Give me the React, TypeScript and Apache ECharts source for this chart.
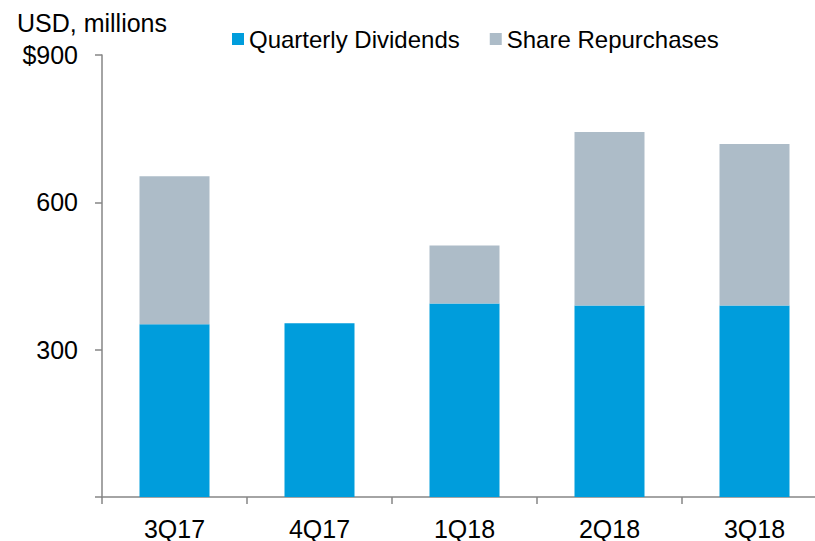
import React, { useEffect, useRef } from "react";
import * as echarts from "echarts";

const categories = ["3Q17", "4Q17", "1Q18", "2Q18", "3Q18"];
const quarterlyDividends = [352, 354, 394, 390, 390];
const shareRepurchases = [301, 0, 118, 353, 329];
const yTicks = [0, 300, 600, 900];

const FONT = "'Liberation Sans', Arial, sans-serif";

export default function App() {
  const ref = useRef<HTMLDivElement>(null);
  useEffect(() => {
    if (!ref.current) return;
    const chart = echarts.init(ref.current, null, { renderer: "svg" });
    chart.setOption({
      animation: false,
      backgroundColor: "#ffffff",
      textStyle: { fontFamily: FONT },
      title: {
        text: "USD, millions",
        left: 12,
        top: 5,
        textStyle: { fontFamily: FONT, fontSize: 25, fontWeight: "normal", color: "#000" },
      },
      legend: {
        left: 227,
        top: 22,
        icon: "rect",
        itemWidth: 12,
        itemHeight: 12,
        itemGap: 30,
        textStyle: { fontFamily: FONT, fontSize: 24, color: "#000", padding: [0, 0, 0, 0] },
        data: ["Quarterly Dividends", "Share Repurchases"],
      },
      grid: { left: 102, top: 55, width: 725, height: 442, containLabel: false },
      xAxis: {
        type: "category",
        data: categories,
        axisLine: { lineStyle: { color: "#868686", width: 1.5 } },
        axisTick: { show: true, length: 7, lineStyle: { color: "#868686", width: 1.5 } },
        axisLabel: { fontFamily: FONT, fontSize: 25, color: "#000", margin: 19 },
      },
      yAxis: {
        type: "value",
        min: yTicks[0],
        max: yTicks[yTicks.length - 1],
        interval: 300,
        splitLine: { show: false },
        axisLine: { show: true, lineStyle: { color: "#868686", width: 1.5 } },
        axisTick: { show: true, length: 7, lineStyle: { color: "#868686", width: 1.5 } },
        axisLabel: {
          fontFamily: FONT,
          fontSize: 25,
          color: "#000",
          margin: 24,
          formatter: (v: number) => (v === 0 ? "" : v === 900 ? "$900" : String(v)),
        },
      },
      series: [
        {
          name: "Quarterly Dividends",
          type: "bar",
          stack: "total",
          data: quarterlyDividends,
          barWidth: 70,
          itemStyle: { color: "#009DDC" },
        },
        {
          name: "Share Repurchases",
          type: "bar",
          stack: "total",
          data: shareRepurchases,
          barWidth: 70,
          itemStyle: { color: "#ADBCC8" },
        },
      ],
    });
    return () => chart.dispose();
  }, []);
  return (
    <div style={{ width: 815, height: 541, position: "absolute", left: 0, top: 0, overflow: "hidden", background: "#fff" }}>
      <div ref={ref} style={{ width: 835, height: 541, position: "absolute", left: 0, top: 0 }} />
    </div>
  );
}
